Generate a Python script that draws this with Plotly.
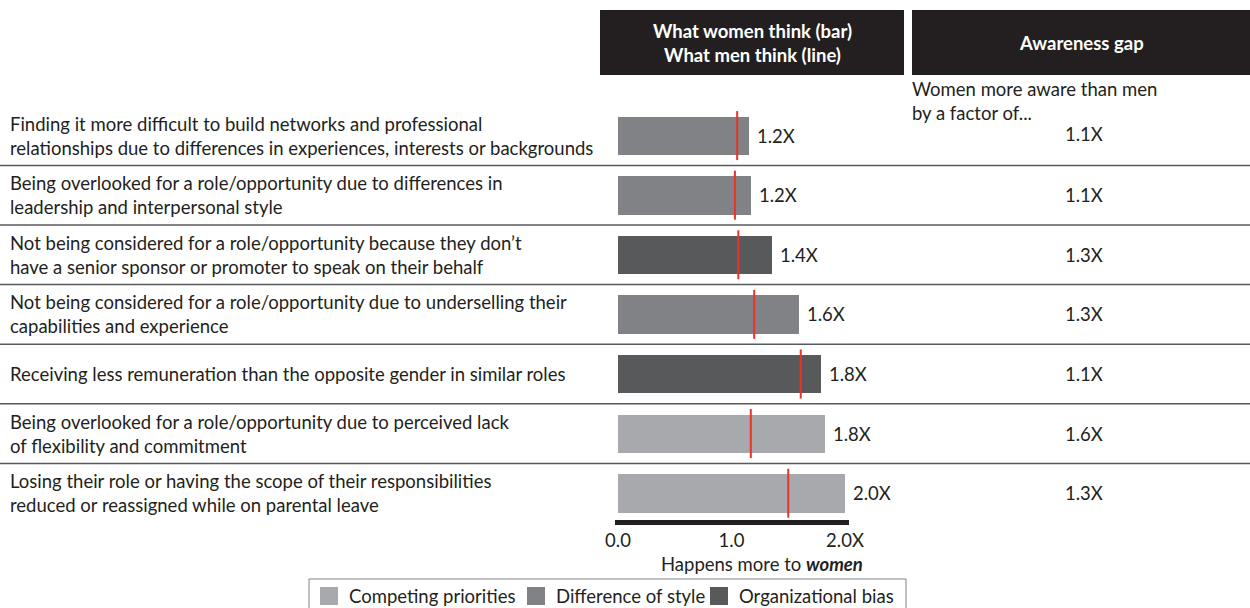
import plotly.graph_objects as go

# ---------------- data ----------------
issues = [
    "Finding it more difficult to build networks and professional<br>relationships due to differences in experiences, interests or backgrounds",
    "Being overlooked for a role/opportunity due to differences in<br>leadership and interpersonal style",
    "Not being considered for a role/opportunity because they don\u2019t<br>have a senior sponsor or promoter to speak on their behalf",
    "Not being considered for a role/opportunity due to underselling their<br>capabilities and experience",
    "Receiving less remuneration than the opposite gender in similar roles",
    "Being overlooked for a role/opportunity due to perceived lack<br>of flexibility and commitment",
    "Losing their role or having the scope of their responsibilities<br>reduced or reassigned while on parental leave",
]
category = [
    "Difference of style", "Difference of style", "Organizational bias",
    "Difference of style", "Organizational bias", "Competing priorities",
    "Competing priorities",
]
women = [1.15, 1.17, 1.36, 1.595, 1.79, 1.82, 2.0]
men = [1.05, 1.03, 1.06, 1.20, 1.61, 1.17, 1.50]
women_labels = ["1.2X", "1.2X", "1.4X", "1.6X", "1.8X", "1.8X", "2.0X"]
gap_labels = ["1.1X", "1.1X", "1.3X", "1.3X", "1.1X", "1.6X", "1.3X"]
legend_order = ["Competing priorities", "Difference of style", "Organizational bias"]
tick_vals = [0, 1, 2]
tick_text = ["0.0", "1.0", "2.0X"]

# ---------------- style ----------------
W, H = 1250, 608
FONT = "Lato"
FS = 18.5
TXT = "#231f20"
colors = {
    "Competing priorities": "#a7a9ac",
    "Difference of style": "#808285",
    "Organizational bias": "#58595b",
}
RED = "#e8322b"


def px(x):
    return x / W


def py(y):
    return 1 - y / H


rows = list(range(len(issues)))

fig = go.Figure()
for cat in legend_order:
    idx = [i for i in rows if category[i] == cat]
    fig.add_trace(go.Bar(
        x=[women[i] for i in idx], y=idx, orientation="h", name=cat,
        marker=dict(color=colors[cat], line=dict(width=0)),
        width=0.643, hoverinfo="skip", showlegend=False,
    ))

fig.add_trace(go.Scatter(
    x=men, y=rows, mode="markers", showlegend=False, hoverinfo="skip",
    marker=dict(symbol="line-ns", size=35, line=dict(width=2, color=RED), color=RED),
    cliponaxis=False,
))

annotations = []
for i in rows:
    annotations.append(dict(
        x=px(8), xref="paper", y=i, yref="y", text=issues[i], showarrow=False,
        xanchor="left", yanchor="middle", align="left",
        font=dict(family=FONT, size=FS, color=TXT),
    ))
for i in rows:
    annotations.append(dict(
        x=women[i], xref="x", y=i, yref="y", text=women_labels[i], showarrow=False,
        xanchor="left", yanchor="middle", xshift=6,
        font=dict(family=FONT, size=FS, color=TXT),
    ))
for i in rows:
    annotations.append(dict(
        x=px(1084), xref="paper", y=i, yref="y", text=gap_labels[i], showarrow=False,
        xanchor="center", yanchor="middle", yshift=(2 if i == 0 else 0),
        font=dict(family=FONT, size=FS, color=TXT),
    ))

annotations += [
    dict(x=px(752), y=py(43), xref="paper", yref="paper", xanchor="center", yanchor="middle",
         text="<b>What women think (bar)<br>What men think (line)</b>", showarrow=False,
         font=dict(family=FONT, size=FS, color="white"), align="center"),
    dict(x=px(1081), y=py(43), xref="paper", yref="paper", xanchor="center", yanchor="middle",
         text="<b>Awareness gap</b>", showarrow=False,
         font=dict(family=FONT, size=FS, color="white")),
    dict(x=px(910), y=py(76), xref="paper", yref="paper", xanchor="left", yanchor="top",
         text="Women more aware than men<br>by a factor of...", showarrow=False, align="left",
         font=dict(family=FONT, size=FS, color=TXT)),
    dict(x=px(762), y=py(564), xref="paper", yref="paper", xanchor="center", yanchor="middle",
         text="Happens more to <b><i>women</i></b>", showarrow=False,
         font=dict(family=FONT, size=FS, color=TXT)),
]

shapes = [
    dict(type="rect", xref="paper", yref="paper", x0=px(600), x1=px(904), y0=py(75), y1=py(10),
         fillcolor="#231f20", line=dict(width=0), layer="below"),
    dict(type="rect", xref="paper", yref="paper", x0=px(912), x1=px(1250), y0=py(75), y1=py(10),
         fillcolor="#231f20", line=dict(width=0), layer="below"),
]
for i in rows[:-1]:
    shapes.append(dict(type="line", xref="paper", yref="y", x0=0, x1=1, y0=i + 0.5, y1=i + 0.5,
                       line=dict(color="#58595b", width=1.5), layer="below"))

# legend (drawn as a framed key)
shapes.append(dict(type="rect", xref="paper", yref="paper", x0=px(309), x1=px(906),
                   y0=py(614), y1=py(579), line=dict(color="#808285", width=1),
                   fillcolor="rgba(0,0,0,0)"))
swatch_x = [320, 527, 710]
for cat, sx in zip(legend_order, swatch_x):
    shapes.append(dict(type="rect", xref="paper", yref="paper", x0=px(sx), x1=px(sx + 18),
                       y0=py(605), y1=py(587), fillcolor=colors[cat], line=dict(width=0)))
    annotations.append(dict(x=px(sx + 27), y=py(596), xref="paper", yref="paper",
                            xanchor="left", yanchor="middle", text=cat, showarrow=False,
                            font=dict(family=FONT, size=FS, color=TXT)))

fig.update_layout(
    width=W, height=H, margin=dict(l=0, r=0, t=0, b=0, autoexpand=False),
    paper_bgcolor="white", plot_bgcolor="rgba(0,0,0,0)",
    barmode="overlay", bargap=0,
    font=dict(family=FONT, size=FS, color=TXT),
    xaxis=dict(domain=[px(615), px(849)], range=[-3 / 113.5, 231 / 113.5],
               showgrid=False, zeroline=False, showline=True, linewidth=5, linecolor="#231f20",
               tickvals=tick_vals, ticktext=tick_text, ticks="", ticklabelstandoff=0,
               tickfont=dict(family=FONT, size=FS, color=TXT), fixedrange=True),
    yaxis=dict(domain=[py(520), py(105.8)], range=[(520 - 135.6) / 59.6, -0.5],
               showgrid=False, zeroline=False, showticklabels=False, fixedrange=True),
    showlegend=False,
    annotations=annotations, shapes=shapes,
)

fig.write_html(
    "out.html",
    config={"displayModeBar": False},
    post_script="document.body.style.margin='0px';document.body.style.overflow='hidden';",
)
